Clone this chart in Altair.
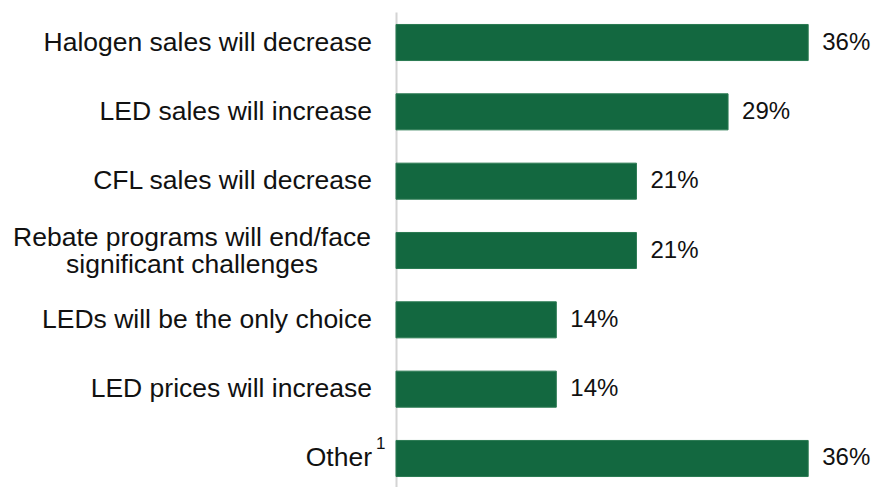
import altair as alt
import pandas as pd

# Expected effects, share of respondents (%)
effects = [
    "Halogen sales will decrease",
    "LED sales will increase",
    "CFL sales will decrease",
    "Rebate programs will end/face|significant challenges",
    "LEDs will be the only choice",
    "LED prices will increase",
    "Other",
]
shares = [36, 29, 21, 21, 14, 14, 36]
footnotes = ["", "", "", "", "", "", "1"]

df = pd.DataFrame({"effect": effects, "share": shares, "note": footnotes})
df["label"] = df["share"].astype(str) + "%"
df["multiline"] = df["effect"].str.contains("|", regex=False)

FONT = "Liberation Sans"
GREEN = "#136840"
TEXT = "#111111"

y_enc = alt.Y(
    "effect:N",
    sort=effects,
    title=None,
    scale=alt.Scale(paddingInner=0.48, paddingOuter=0.18),
    axis=alt.Axis(
        labels=False,
        ticks=False,
        domainColor="#d4d4d4",
        domainWidth=2,
        grid=False,
    ),
)
y_plain = alt.Y("effect:N", sort=effects)

x_enc = alt.X(
    "share:Q",
    scale=alt.Scale(domain=[0, 40], nice=False),
    axis=None,
)

base = alt.Chart(df)

bars = base.mark_bar(color=GREEN, stroke="#2a7a52", strokeWidth=1).encode(
    x=x_enc, y=y_enc
)

values = base.mark_text(
    align="left", baseline="middle", dx=14, font=FONT, fontSize=24, color=TEXT
).encode(x=x_enc, y=y_plain, text="label:N")

# category names to the left of the axis
names = base.transform_filter("!datum.multiline").mark_text(
    align="right", baseline="middle", dx=-24, font=FONT, fontSize=26.5, color=TEXT
).encode(x=alt.value(0), y=y_plain, text="effect:N")

names_wrapped = base.transform_filter("datum.multiline").mark_text(
    align="center", baseline="alphabetic", dx=-204, dy=-5, lineBreak="|", lineHeight=27,
    font=FONT, fontSize=26.5, color=TEXT,
).encode(x=alt.value(0), y=y_plain, text="effect:N")

notes = base.transform_filter("datum.note != ''").mark_text(
    align="left", baseline="middle", dx=-20, dy=-14, font=FONT, fontSize=17, color=TEXT
).encode(x=alt.value(0), y=y_plain, text="note:N")

chart = (
    alt.layer(bars, values, names, names_wrapped, notes)
    .properties(
        width=458,
        height=477,
        autosize=alt.AutoSizeParams(type="none"),
        padding={"left": 396, "top": 12, "right": 20, "bottom": 0},
        background="white",
    )
    .configure_view(stroke=None)
)

chart.save("out.html", embed_options={"renderer": "svg", "actions": False})
